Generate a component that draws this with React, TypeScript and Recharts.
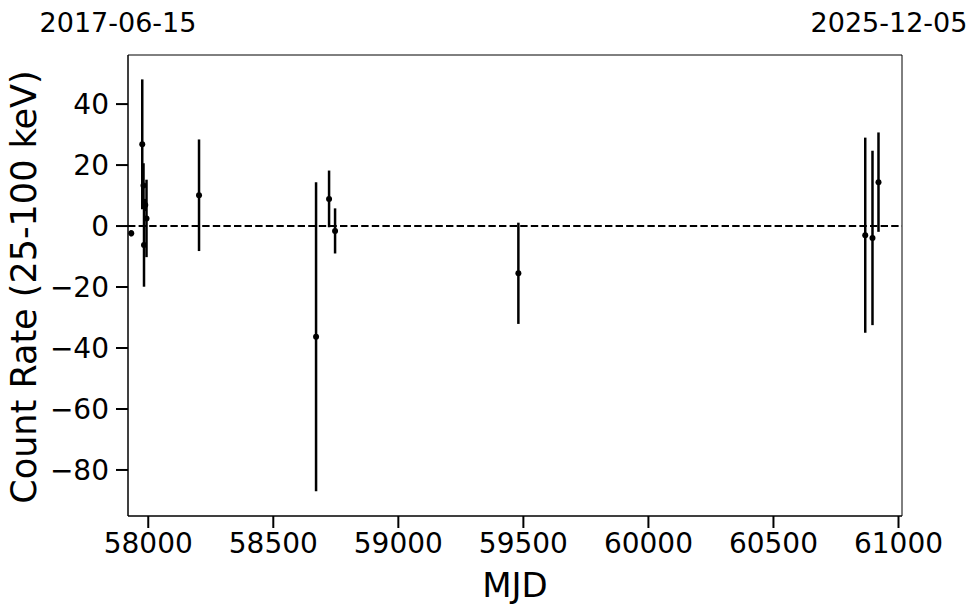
import React from "react"
import { ScatterChart, Scatter, XAxis, YAxis, ErrorBar, ReferenceLine, ReferenceArea, Label } from "recharts"

// light curve points
const mjd = [57932, 57976, 57981, 57983, 57993, 57988, 58203, 58671, 58723, 58747, 59480, 60867, 60896, 60920]
const rate = [-2.4, 26.8, 13.3, -6.2, 2.5, 6.9, 10.1, -36.3, 8.9, -1.6, -15.5, -3.0, -3.9, 14.4]
const rateErr = [1.0, 21.3, 7.3, 13.7, 12.7, 2.0, 18.3, 50.7, 9.3, 7.4, 16.6, 32.0, 28.6, 16.3]

const xTicks = [58000, 58500, 59000, 59500, 60000, 60500, 61000]
const yTicks = [-80, -60, -40, -20, 0, 20, 40]
const xDomain = [57919, 61014]
const yDomain = [-95.1, 56.1]
const dateLabels = ["2017-06-15", "2025-12-05"]

const data = mjd.map((m, i) => ({ x: m, y: rate[i], err: rateErr[i] }))

const FONT = "'DejaVu Sans', sans-serif"

const Dot = (props: any) => <circle cx={props.cx} cy={props.cy} r={3} fill="#000" />

export default function App() {
  return (
    <div style={{ position: "absolute", left: 0, top: 0, width: 980, height: 613, fontFamily: FONT, background: "#fff" }}>
      <ScatterChart width={980} height={613} margin={{ top: 55, right: 78, bottom: 0, left: 0 }}>
        <XAxis
          dataKey="x"
          type="number"
          domain={xDomain}
          ticks={xTicks}
          allowDataOverflow
          height={97}
          tickSize={12}
          tickMargin={5}
          stroke="#000"
          tick={{ fill: "#000", fontSize: 28, fontFamily: FONT }}
          tickLine={{ stroke: "#000", strokeWidth: 2 }}
        >
          <Label value="MJD" position="insideBottom" offset={16} fill="#000" fontSize={34} fontFamily={FONT} />
        </XAxis>
        <YAxis
          dataKey="y"
          type="number"
          domain={yDomain}
          ticks={yTicks}
          allowDataOverflow
          width={128}
          tickSize={12}
          tickMargin={7}
          stroke="#000"
          tick={{ fill: "#000", fontSize: 28, fontFamily: FONT }}
          tickLine={{ stroke: "#000", strokeWidth: 2 }}
          tickFormatter={(v: number) => (v < 0 ? "\u2212" + Math.abs(v) : String(v))}
        >
          <Label
            content={() => (
              <text x={36} y={287} transform="rotate(-90, 36, 287)" textAnchor="middle" fontSize={35} fontFamily={FONT} fill="#000">
                Count Rate (25-100 keV)
              </text>
            )}
          />
        </YAxis>
        <ReferenceArea x1={xDomain[0]} x2={xDomain[1]} y1={yDomain[0]} y2={yDomain[1]} fill="none" stroke="#000" strokeWidth={1} />
        <ReferenceLine y={0} stroke="#000" strokeWidth={2} strokeDasharray="7.4 3.2" />
        <Scatter data={data} shape={<Dot />} isAnimationActive={false}>
          <ErrorBar
            dataKey="err"
            direction="y"
            width={0}
            stroke="#000"
            strokeWidth={2.5}
            style={{ strokeWidth: 2.5 }}
            isAnimationActive={false}
          />
        </Scatter>
      </ScatterChart>
      <svg width={980} height={50} style={{ position: "absolute", left: 0, top: 0, pointerEvents: "none" }}>
        <text x={118} y={32} textAnchor="middle" fontSize={27} fontFamily={FONT} fill="#000">{dateLabels[0]}</text>
        <text x={889} y={32} textAnchor="middle" fontSize={27} fontFamily={FONT} fill="#000">{dateLabels[1]}</text>
      </svg>
    </div>
  )
}
